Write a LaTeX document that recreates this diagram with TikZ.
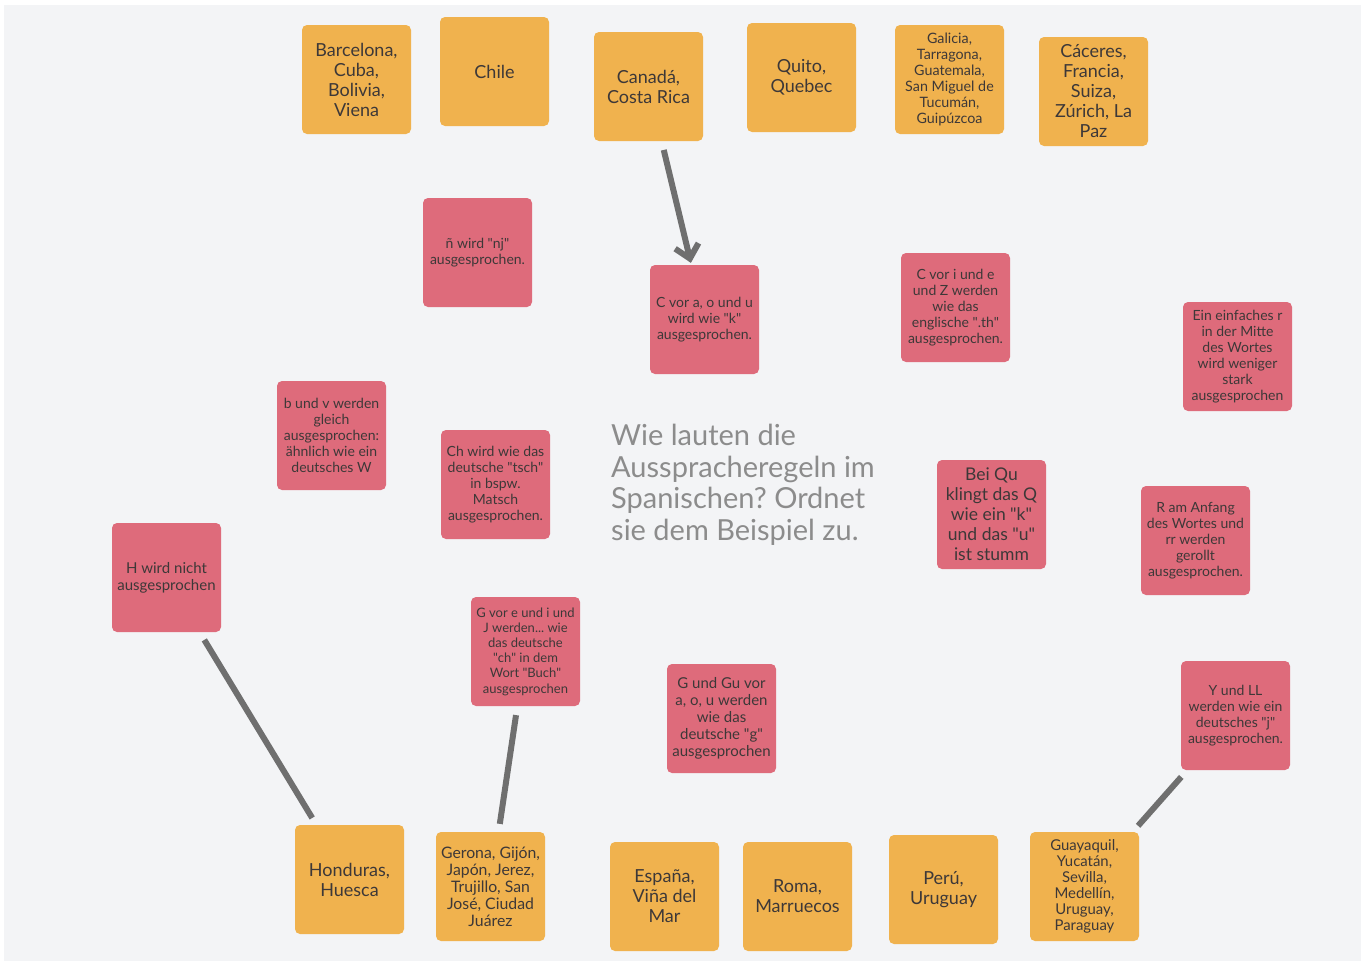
\documentclass[tikz,border=0pt]{standalone}
\usepackage{fontspec}
\setmainfont{Lato}
\usetikzlibrary{arrows.meta}
\definecolor{hgrund}{HTML}{F3F4F6}
\definecolor{orte}{HTML}{F0B24E}
\definecolor{regeln}{HTML}{DE6B7B}
\definecolor{schrift}{HTML}{3D3838}
\definecolor{pfeil}{HTML}{6F6F6F}
\definecolor{frage}{HTML}{8C8C8C}
\newcommand{\dq}{\textquotedbl}
\frenchspacing
\begin{document}
\begin{tikzpicture}[x=1pt, y=-1pt, line join=round,
		box/.style={rectangle, rounded corners=5pt, minimum width=109pt, minimum height=109pt, inner sep=2pt, align=center, text=schrift},
		ort/.style={box, fill=orte, font=\fontsize{18}{20}\selectfont},
		regel/.style={box, fill=regeln, font=\fontsize{14}{16}\selectfont},
		klein/.style={font=\fontsize{14.3}{16}\selectfont},
		mittel/.style={font=\fontsize{15}{17}\selectfont},
		gross/.style={font=\fontsize{17.5}{20}\selectfont},
		link/.style={draw=pfeil, line width=6pt, shorten <=9pt, shorten >=8pt}]
	\fill[white] (0,0) rectangle (1361,961);
	\fill[hgrund] (4,5) rectangle (1361,961);
	% Orte oben
	\node[ort] (barcelona) at (356.5,79.5) {Barcelona,\\Cuba,\\Bolivia,\\Viena};
	\node[ort] (chile) at (494.5,71.5) {Chile};
	\node[ort] (canada) at (648.5,86.5) {Canadá,\\Costa Rica};
	\node[ort] (quito) at (801.5,77.5) {Quito,\\Quebec};
	\node[ort, klein] (galicia) at (949.5,79.5) {Galicia,\\Tarragona,\\Guatemala,\\San Miguel de\\Tucumán,\\Guipúzcoa};
	\node[ort] (caceres) at (1093.5,91.5) {Cáceres,\\Francia,\\Suiza,\\Zúrich, La\\Paz};
	% Regeln
	\node[regel] (enje) at (477.5,252.5) {ñ wird \dq nj\dq\\ausgesprochen.};
	\node[regel] (cvoraou) at (704.5,319.5) {C vor a, o und u\\wird wie \dq k\dq\\ausgesprochen.};
	\node[regel] (cvorie) at (955.5,307.5) {C vor i und e\\und Z werden\\wie das\\englische \dq.th\dq\\ausgesprochen.};
	\node[regel] (einfachr) at (1237.5,356.5) {Ein einfaches r\\in der Mitte\\des Wortes\\wird weniger\\stark\\ausgesprochen};
	\node[regel] (bundv) at (331.5,435.5) {b und v werden\\gleich\\ausgesprochen:\\ähnlich wie ein\\deutsches W};
	\node[regel] (ch) at (495.5,484.5) {Ch wird wie das\\deutsche \dq tsch\dq\\in bspw.\\Matsch\\ausgesprochen.};
	\node[regel, gross] (qu) at (991.5,514.5) {Bei Qu\\klingt das Q\\wie ein \dq k\dq\\und das \dq u\dq\\ist stumm};
	\node[regel] (rr) at (1195.5,540.5) {R am Anfang\\des Wortes und\\rr werden\\gerollt\\ausgesprochen.};
	\node[regel, mittel] (hnicht) at (166.5,577.5) {H wird nicht\\ausgesprochen};
	\node[regel, font=\fontsize{13}{15.2}\selectfont] (gvorei) at (525.5,651.5) {G vor e und i und\\J werden... wie\\das deutsche\\\dq ch\dq{} in dem\\Wort \dq Buch\dq\\ausgesprochen};
	\node[regel, mittel] (gvorao) at (721.5,718.5) {G und Gu vor\\a, o, u werden\\wie das\\deutsche \dq g\dq\\ausgesprochen};
	\node[regel] (yll) at (1235.5,715.5) {Y und LL\\werden wie ein\\deutsches \dq j\dq\\ausgesprochen.};
	% Orte unten
	\node[ort] (honduras) at (349.5,879.5) {Honduras,\\Huesca};
	\node[ort, font=\fontsize{15.8}{17}\selectfont] (gerona) at (490.5,886.5) {Gerona, Gijón,\\Japón, Jerez,\\Trujillo, San\\José, Ciudad\\Juárez};
	\node[ort] (espana) at (664.5,896.5) {España,\\Viña del\\Mar};
	\node[ort] (roma) at (797.5,896.5) {Roma,\\Marruecos};
	\node[ort] (peru) at (943.5,889.5) {Perú,\\Uruguay};
	\node[ort, font=\fontsize{14.9}{16}\selectfont] (guayaquil) at (1084.5,886.5) {Guayaquil,\\Yucatán,\\Sevilla,\\Medellín,\\Uruguay,\\Paraguay};
	% Aufgabe
	\node[anchor=north west, align=left, text=frage, inner sep=0pt, font=\fontsize{29}{31.5}\selectfont] (aufgabe) at (611,424) {Wie lauten die\\Ausspracheregeln im\\Spanischen? Ordnet\\sie dem Beispiel zu.};
	% Zuordnungen
	\draw[link, -{Straight Barb[length=13pt, width=24pt]}, shorten >=2pt] (canada) -- (cvoraou);
	\draw[link] (hnicht) -- (honduras);
	\draw[link] (gvorei) -- (gerona);
	\draw[link] (yll) -- (guayaquil);
\end{tikzpicture}
\end{document}
